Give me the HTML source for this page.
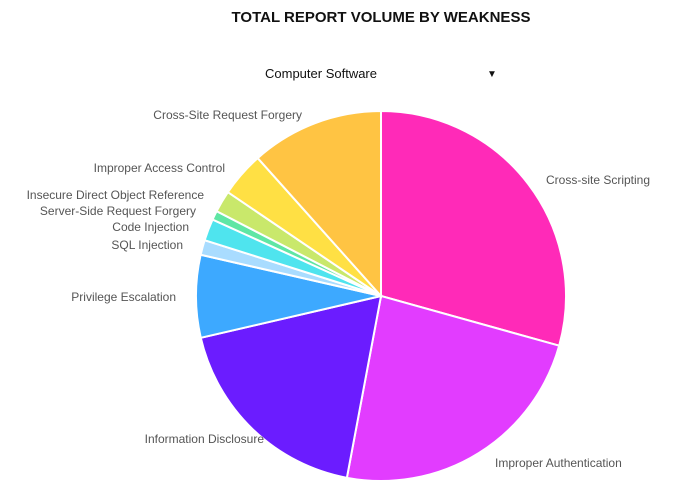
<!DOCTYPE html>
<html><head><meta charset="utf-8"><style>
body{margin:0;background:#fff;width:678px;height:484px;overflow:hidden;font-family:"Liberation Sans",sans-serif}
svg{position:absolute;left:0;top:0}
</style></head><body>
<svg width="678" height="484">
<text x="381" y="22" text-anchor="middle" font-size="15" font-weight="bold" fill="#111">TOTAL REPORT VOLUME BY WEAKNESS</text>
<g>
<text x="265" y="78" font-size="13" fill="#111">Computer Software</text>
<text x="487" y="77" font-size="10" fill="#111">▼</text>
</g>
<g id="slices"></g>
<g id="labels"></g>
</svg>
<script>
const categories=["Cross-site Scripting","Improper Authentication","Information Disclosure","Privilege Escalation","SQL Injection","Code Injection","Server-Side Request Forgery","Insecure Direct Object Reference","Improper Access Control","Cross-Site Request Forgery"];
const values=[29.3,23.6,18.4,7.2,1.3,1.9,0.8,1.9,3.9,11.6];
const colors=["#ff2ab8","#e23cff","#6b1cff","#3da9ff","#a9dcff","#4fe4ee","#5fe6a4","#c9e86b","#ffe044","#ffc443"];
const labelPos=[[546,184,"start"],[495,467,"start"],[264,443,"end"],[176,301,"end"],[183,249,"end"],[189,231,"end"],[196,215,"end"],[204,199,"end"],[225,172,"end"],[302,119,"end"]];
const cx=381,cy=296,r=185;
const total=values.reduce((a,b)=>a+b,0);
const ns="http://www.w3.org/2000/svg";
const gs=document.getElementById('slices'),gl=document.getElementById('labels');
function pt(a){return [cx+r*Math.sin(a),cy-r*Math.cos(a)];}
let acc=0;
values.forEach((v,i)=>{
 const a0=acc/total*2*Math.PI;acc+=v;const a1=acc/total*2*Math.PI;
 const p0=pt(a0),p1=pt(a1);
 const p=document.createElementNS(ns,'path');
 p.setAttribute('d',`M${cx},${cy}L${p0[0]},${p0[1]}A${r},${r} 0 ${a1-a0>Math.PI?1:0} 1 ${p1[0]},${p1[1]}Z`);
 p.setAttribute('fill',colors[i]);p.setAttribute('stroke','#fff');p.setAttribute('stroke-width','2');
 
 
 gs.appendChild(p);
 const t=document.createElementNS(ns,'text');
 t.setAttribute('x',labelPos[i][0]);t.setAttribute('y',labelPos[i][1]);t.setAttribute('text-anchor',labelPos[i][2]);
 t.setAttribute('font-size','12');t.setAttribute('fill','#555');t.textContent=categories[i];
 
 
 gl.appendChild(t);
});
</script>
</body></html>
